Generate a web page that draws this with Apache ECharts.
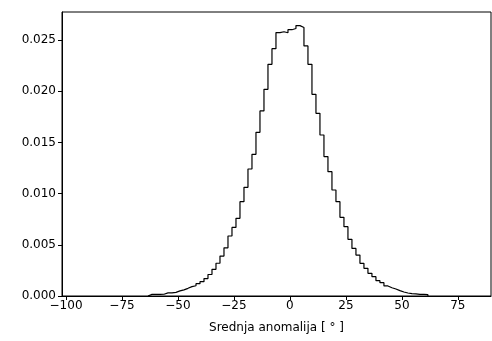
<!DOCTYPE html>
<html>
<head>
<meta charset="utf-8">
<script src="https://cdn.jsdelivr.net/npm/echarts@6/dist/echarts.min.js"></script>
<style>
    html, body { margin: 0; padding: 0; background: #fff; }
    #chart { width: 492px; height: 341px; }
</style>
</head>
<body>
<div id="chart"></div>
<script>
'use strict';

// histogram bins (edges in degrees, density per bin)
var binStart = -63.39;
var binWidth = 1.786;
var density = [
    0.00016, 0.00016, 0.00016, 0.00017, 0.0003, 0.0003, 0.00035, 0.0005, 0.0006, 0.00075,
    0.00092, 0.001, 0.0012, 0.0014, 0.0017, 0.0021, 0.0026, 0.0032, 0.0039, 0.0047,
    0.00586, 0.0067, 0.00758, 0.00921, 0.01061, 0.0124, 0.01383, 0.01598, 0.01807, 0.02018,
    0.02262, 0.02415, 0.02572, 0.0258, 0.0257, 0.026, 0.02612, 0.0264, 0.02622, 0.02442,
    0.02262, 0.01969, 0.01784, 0.01572, 0.01361, 0.01214, 0.01035, 0.00921, 0.00768, 0.00677,
    0.00553, 0.00465, 0.004, 0.00319, 0.0027, 0.00221, 0.00189, 0.0015, 0.0013, 0.00098,
    0.00081, 0.00068, 0.00052, 0.00039, 0.00029, 0.00023, 0.0002, 0.00016, 0.00016, 0.00013
];

var xTicks = [-100, -75, -50, -25, 0, 25, 50, 75];
var yTicks = [0, 0.005, 0.01, 0.015, 0.02, 0.025];
var xLabel = 'Srednja anomalija [ ° ]';

(function (echarts) {

    var font = 'DejaVu Sans';

    // step outline like matplotlib histtype='step'
    var points = [[binStart, 0]];
    density.forEach(function (v, i) {
        points.push([binStart + i * binWidth, v]);
    });
    var lastEdge = binStart + density.length * binWidth;
    points.push([lastEdge, density[density.length - 1]]);
    points.push([lastEdge, 0]);

    var chart = echarts.init(document.getElementById('chart'), null, {renderer: 'canvas'});

    chart.setOption({
        animation: false,
        grid: {
            left: 62,
            right: 1,
            top: 12,
            bottom: 45,
            show: true,
            borderColor: '#000',
            borderWidth: 1,
            backgroundColor: 'transparent'
        },
        xAxis: {
            type: 'value',
            min: -101.8,
            max: 89.8,
            name: xLabel,
            nameLocation: 'middle',
            nameGap: 26,
            nameTextStyle: {color: '#000', fontFamily: font, fontSize: 12},
            splitLine: {show: false},
            axisLine: {show: true, onZero: false, lineStyle: {color: '#000', width: 1}},
            axisTick: {show: true, length: 4, customValues: xTicks, lineStyle: {color: '#000'}},
            axisLabel: {
                customValues: xTicks,
                color: '#000',
                fontFamily: font,
                fontSize: 12,
                margin: 4,
                formatter: function (v) {
                    return v < 0 ? '\u2212' + Math.abs(v) : String(v);
                }
            }
        },
        yAxis: {
            type: 'value',
            min: 0,
            max: 0.02773,
            splitLine: {show: false},
            axisLine: {show: true, onZero: false, lineStyle: {color: '#000', width: 1}},
            axisTick: {show: true, length: 4, customValues: yTicks, lineStyle: {color: '#000'}},
            axisLabel: {
                customValues: yTicks,
                color: '#000',
                fontFamily: font,
                fontSize: 12,
                margin: 6,
                formatter: function (v) {
                    return v.toFixed(3);
                }
            }
        },
        series: [{
            type: 'line',
            step: 'end',
            data: points,
            showSymbol: false,
            silent: true,
            lineStyle: {color: '#000', width: 1.2}
        }]
    });

})(echarts);
</script>
</body>
</html>
